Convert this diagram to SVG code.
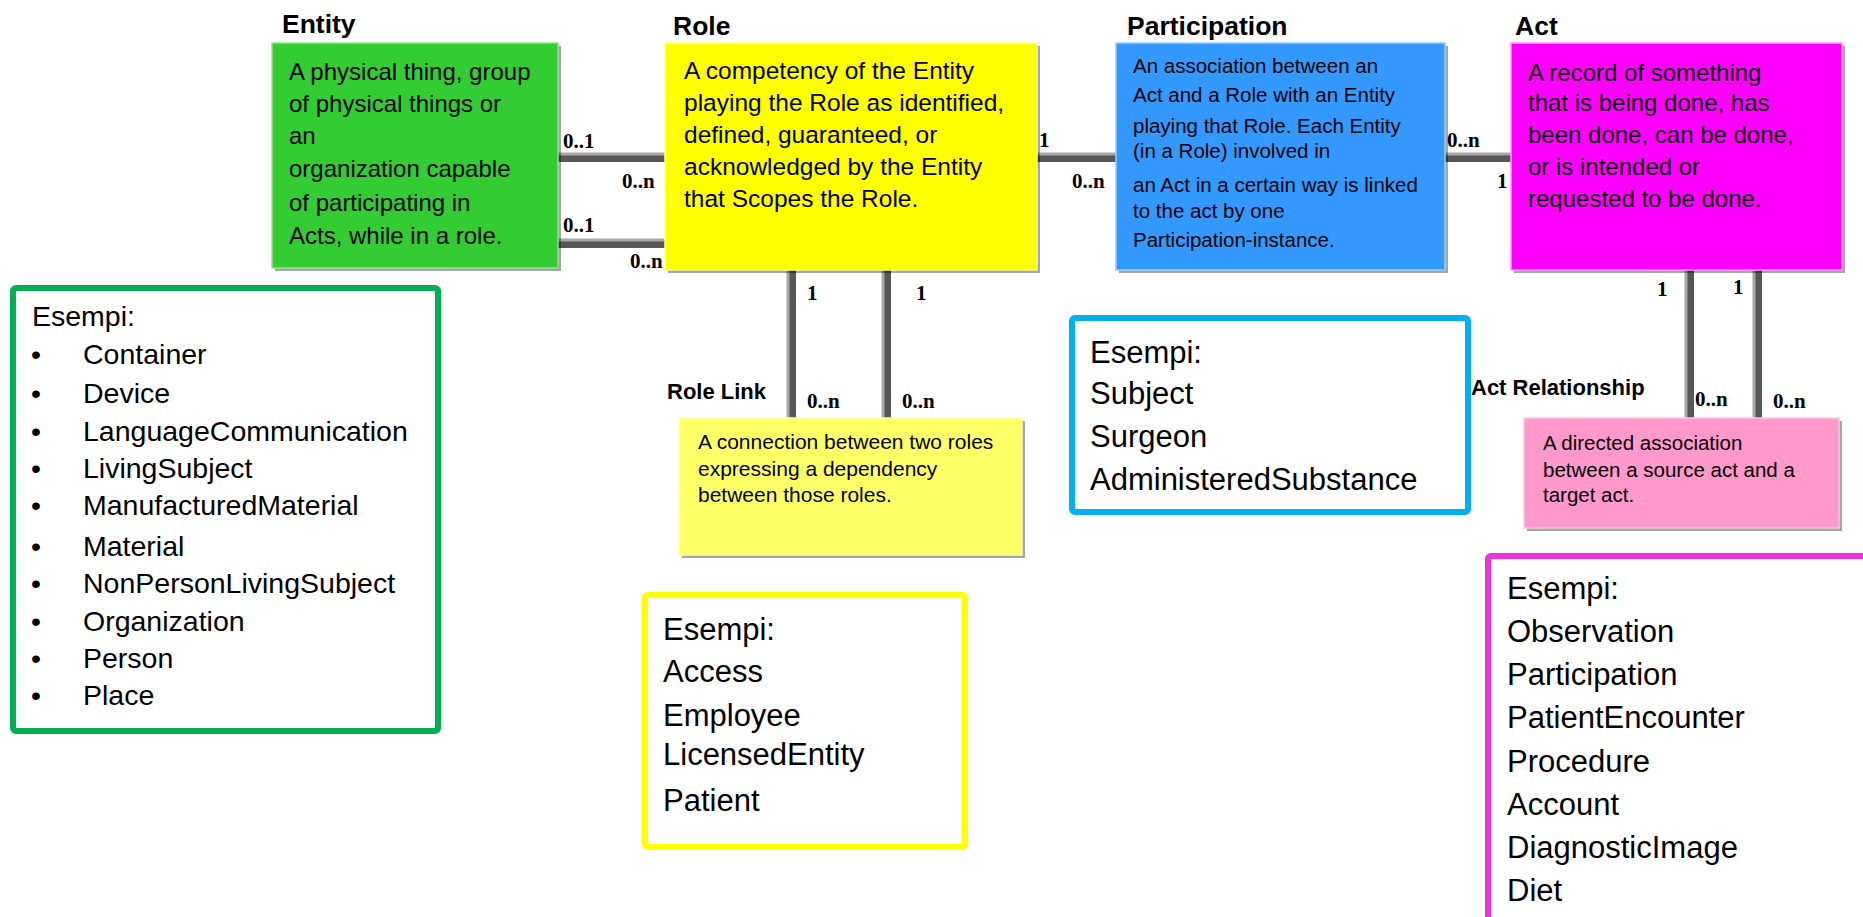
<svg xmlns="http://www.w3.org/2000/svg" width="1863" height="917" viewBox="0 0 1863 917">
  <style>
    .title { font-family: "Liberation Sans", Arial, sans-serif; font-weight: bold; font-size: 26.5px; fill: #000; }
    .sub { font-family: "Liberation Sans", Arial, sans-serif; font-weight: bold; font-size: 22px; fill: #000; }
    .body { font-family: "Liberation Sans", Arial, sans-serif; font-size: 24px; fill: #000; }
    .small { font-family: "Liberation Sans", Arial, sans-serif; font-size: 20.5px; fill: #000; }
    .ex { font-family: "Liberation Sans", Arial, sans-serif; font-size: 31px; fill: #000; }
    .exg { font-family: "Liberation Sans", Arial, sans-serif; font-size: 28.5px; fill: #000; }
    .card { font-family: "Liberation Serif", "Times New Roman", serif; font-weight: bold; font-size: 21px; fill: #000; }
    .shadow { fill: #000; opacity: 0.35; }
    .link { stroke: #575757; stroke-width: 7; fill: none; }
    .linkhi { stroke: #a8a8a8; stroke-width: 3; fill: none; }
    .exbox { fill: #fff; stroke-width: 6; }
  </style>

  <!-- connectors -->
  <g id="connectors">
    <!-- Entity - Role (two associations) -->
    <line class="link" x1="557" y1="158.5" x2="669" y2="158.5"/>
    <line class="linkhi" x1="557" y1="154" x2="667" y2="154"/>
    <line class="link" x1="557" y1="244.5" x2="669" y2="244.5"/>
    <line class="linkhi" x1="557" y1="240" x2="667" y2="240"/>
    <!-- Role - Participation -->
    <line class="link" x1="1037" y1="158.5" x2="1119" y2="158.5"/>
    <line class="linkhi" x1="1035" y1="154" x2="1117" y2="154"/>
    <!-- Participation - Act -->
    <line class="link" x1="1445" y1="158.5" x2="1514" y2="158.5"/>
    <line class="linkhi" x1="1445" y1="154" x2="1512" y2="154"/>
    <!-- Role Link -->
    <line class="link" x1="792.5" y1="270" x2="792.5" y2="421"/>
    <line class="linkhi" x1="788" y1="270" x2="788" y2="419"/>
    <line class="link" x1="887.5" y1="270" x2="887.5" y2="421"/>
    <line class="linkhi" x1="883" y1="270" x2="883" y2="419"/>
    <!-- Act Relationship -->
    <line class="link" x1="1690.5" y1="270" x2="1690.5" y2="421"/>
    <line class="linkhi" x1="1686" y1="270" x2="1686" y2="419"/>
    <line class="link" x1="1758.5" y1="270" x2="1758.5" y2="421"/>
    <line class="linkhi" x1="1754" y1="270" x2="1754" y2="419"/>

    <!-- cardinalities -->
    <text class="card" x="563" y="148">0..1</text>
    <text class="card" x="622" y="188">0..n</text>
    <text class="card" x="563" y="232">0..1</text>
    <text class="card" x="630" y="268">0..n</text>
    <text class="card" x="1039" y="147">1</text>
    <text class="card" x="1072" y="188">0..n</text>
    <text class="card" x="1447" y="147">0..n</text>
    <text class="card" x="1497" y="188">1</text>
    <text class="card" x="807" y="300">1</text>
    <text class="card" x="916" y="300">1</text>
    <text class="card" x="807" y="408">0..n</text>
    <text class="card" x="902" y="408">0..n</text>
    <text class="card" x="1657" y="296">1</text>
    <text class="card" x="1733" y="294">1</text>
    <text class="card" x="1695" y="406">0..n</text>
    <text class="card" x="1773" y="408">0..n</text>
    <text class="sub" x="667" y="399">Role Link</text>
    <text class="sub" x="1471" y="395">Act Relationship</text>
  </g>

  <!-- Entity -->
  <g id="entity">
    <text class="title" x="282" y="33">Entity</text>
    <rect class="shadow" x="275" y="46" width="286" height="225"/>
    <rect x="272" y="43" width="286" height="225" fill="#33CC33" stroke="#8FE08F" stroke-width="1.5"/>
    <text class="body" x="289" y="80">A physical thing, group</text>
    <text class="body" x="289" y="112">of physical things or</text>
    <text class="body" x="289" y="144">an</text>
    <text class="body" x="289" y="177">organization capable</text>
    <text class="body" x="289" y="211">of participating in</text>
    <text class="body" x="289" y="244">Acts, while in a role.</text>
  </g>

  <!-- Role -->
  <g id="role">
    <text class="title" x="673" y="35">Role</text>
    <rect class="shadow" x="668" y="46" width="372" height="227"/>
    <rect x="665" y="43" width="372" height="227" fill="#FFFF00" stroke="#FFFF99" stroke-width="1.5"/>
    <g style="font-size:24.5px">
      <text class="body" x="684" y="79" style="font-size:24.5px">A competency of the Entity</text>
      <text class="body" x="684" y="111" style="font-size:24.5px">playing the Role as identified,</text>
      <text class="body" x="684" y="143" style="font-size:24.5px">defined, guaranteed, or</text>
      <text class="body" x="684" y="175" style="font-size:24.5px">acknowledged by the Entity</text>
      <text class="body" x="684" y="207" style="font-size:24.5px">that Scopes the Role.</text>
    </g>
  </g>

  <!-- Participation -->
  <g id="participation">
    <text class="title" x="1127" y="35">Participation</text>
    <rect class="shadow" x="1119" y="46" width="329" height="227"/>
    <rect x="1116" y="43" width="329" height="227" fill="#3399FF" stroke="#99CCFF" stroke-width="1.5"/>
    <text class="small" x="1133" y="73">An association between an</text>
    <text class="small" x="1133" y="102">Act and a Role with an Entity</text>
    <text class="small" x="1133" y="133">playing that Role. Each Entity</text>
    <text class="small" x="1133" y="158">(in a Role) involved in</text>
    <text class="small" x="1133" y="192">an Act in a certain way is linked</text>
    <text class="small" x="1133" y="218">to the act by one</text>
    <text class="small" x="1133" y="247">Participation-instance.</text>
  </g>

  <!-- Act -->
  <g id="act">
    <text class="title" x="1515" y="35">Act</text>
    <rect class="shadow" x="1514" y="46" width="331" height="227"/>
    <rect x="1511" y="43" width="331" height="227" fill="#FF00FF" stroke="#FF99FF" stroke-width="1.5"/>
    <text class="body" x="1528" y="81">A record of something</text>
    <text class="body" x="1528" y="111">that is being done, has</text>
    <text class="body" x="1528" y="143">been done, can be done,</text>
    <text class="body" x="1528" y="175">or is intended or</text>
    <text class="body" x="1528" y="207">requested to be done.</text>
  </g>

  <!-- Role Link -->
  <g id="role-link">
    <rect class="shadow" x="682" y="421" width="343" height="137"/>
    <rect x="679" y="418" width="343" height="137" fill="#FFFF66" stroke="#FFFFAA" stroke-width="1.5"/>
    <text class="small" x="698" y="449" style="font-size:21px">A connection between two roles</text>
    <text class="small" x="698" y="476" style="font-size:21px">expressing a dependency</text>
    <text class="small" x="698" y="502" style="font-size:21px">between those roles.</text>
  </g>

  <!-- Act Relationship -->
  <g id="act-relationship">
    <rect class="shadow" x="1527" y="421" width="315" height="110"/>
    <rect x="1524" y="418" width="315" height="110" fill="#FF99CC" stroke="#FFC4E0" stroke-width="1.5"/>
    <text class="small" x="1543" y="450">A directed association</text>
    <text class="small" x="1543" y="477">between a source act and a</text>
    <text class="small" x="1543" y="502">target act.</text>
  </g>

  <!-- Entity examples -->
  <g id="entity-examples">
    <rect class="exbox" x="13" y="288" width="425" height="443" rx="3" stroke="#00B050"/>
    <text class="exg" x="32" y="326">Esempi:</text>
    <g class="exg">
      <text x="31" y="364">•</text><text x="83" y="364">Container</text>
      <text x="31" y="403">•</text><text x="83" y="403">Device</text>
      <text x="31" y="441">•</text><text x="83" y="441">LanguageCommunication</text>
      <text x="31" y="478">•</text><text x="83" y="478">LivingSubject</text>
      <text x="31" y="515">•</text><text x="83" y="515">ManufacturedMaterial</text>
      <text x="31" y="556">•</text><text x="83" y="556">Material</text>
      <text x="31" y="593">•</text><text x="83" y="593">NonPersonLivingSubject</text>
      <text x="31" y="631">•</text><text x="83" y="631">Organization</text>
      <text x="31" y="668">•</text><text x="83" y="668">Person</text>
      <text x="31" y="705">•</text><text x="83" y="705">Place</text>
    </g>
  </g>

  <!-- Role examples -->
  <g id="role-examples">
    <rect class="exbox" x="645" y="595" width="320" height="252" rx="3" stroke="#FFFF00"/>
    <text class="ex" x="663" y="640">Esempi:</text>
    <text class="ex" x="663" y="682">Access</text>
    <text class="ex" x="663" y="726">Employee</text>
    <text class="ex" x="663" y="765">LicensedEntity</text>
    <text class="ex" x="663" y="811">Patient</text>
  </g>

  <!-- Participation examples -->
  <g id="participation-examples">
    <rect class="exbox" x="1072" y="318" width="396" height="194" rx="3" stroke="#00B0F0"/>
    <text class="ex" x="1090" y="363">Esempi:</text>
    <text class="ex" x="1090" y="404">Subject</text>
    <text class="ex" x="1090" y="447">Surgeon</text>
    <text class="ex" x="1090" y="490">AdministeredSubstance</text>
  </g>

  <!-- Act examples -->
  <g id="act-examples">
    <rect class="exbox" x="1488" y="556" width="420" height="420" rx="3" stroke="#F032DA"/>
    <text class="ex" x="1507" y="599">Esempi:</text>
    <text class="ex" x="1507" y="642">Observation</text>
    <text class="ex" x="1507" y="685">Participation</text>
    <text class="ex" x="1507" y="728">PatientEncounter</text>
    <text class="ex" x="1507" y="772">Procedure</text>
    <text class="ex" x="1507" y="815">Account</text>
    <text class="ex" x="1507" y="858">DiagnosticImage</text>
    <text class="ex" x="1507" y="901">Diet</text>
  </g>
</svg>
